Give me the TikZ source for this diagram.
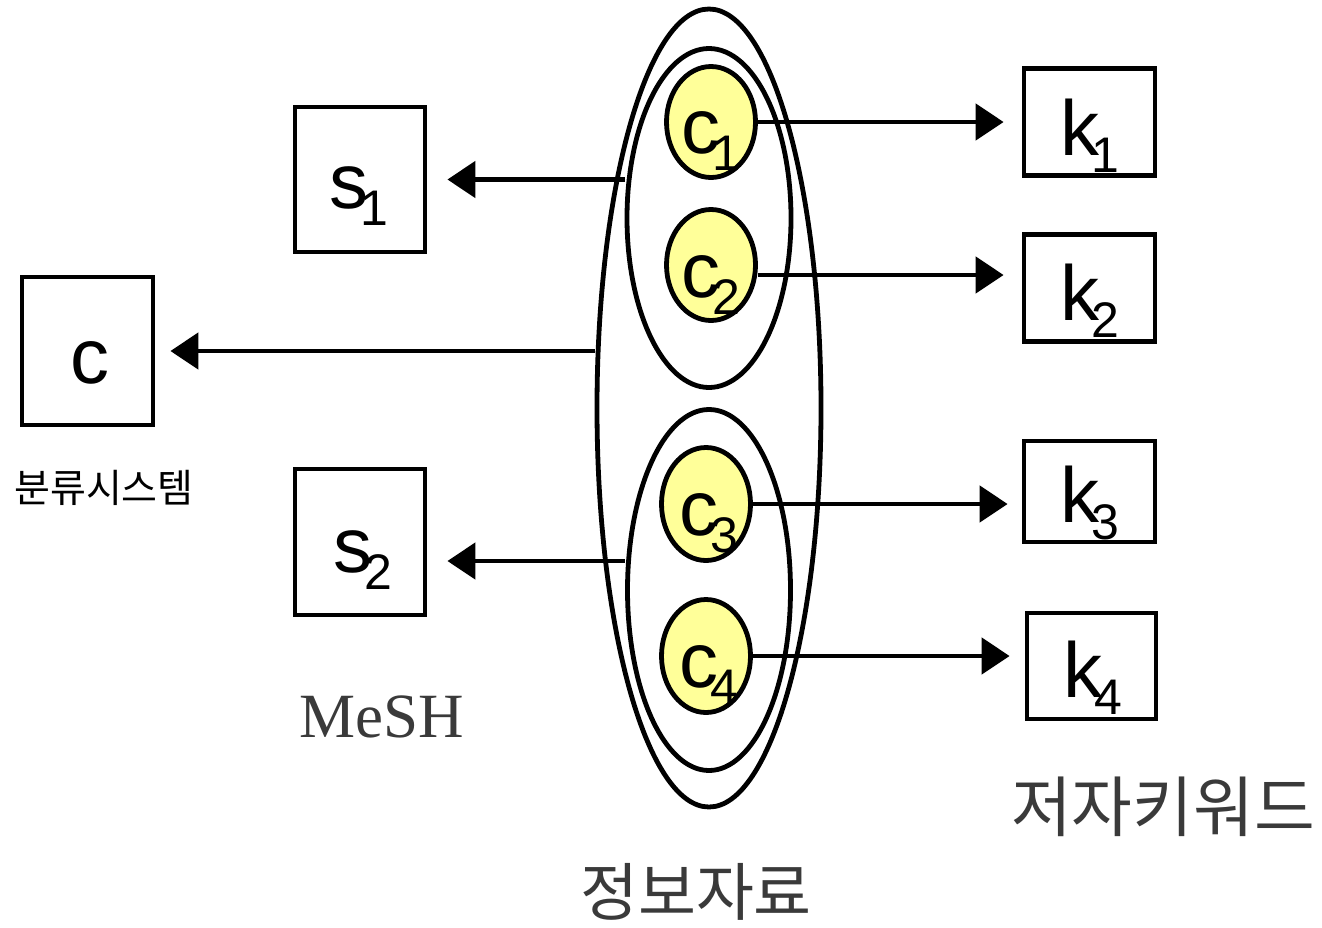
\documentclass[tikz,border=0pt]{standalone}
\usepackage{fontspec}
\setmainfont{Liberation Sans}
\newfontfamily\krfont{Noto Sans CJK KR}
\newfontfamily\seriffont{Liberation Serif}
\usetikzlibrary{shapes.geometric,arrows.meta,calc}

\definecolor{pale}{RGB}{255,255,153}
\definecolor{ink}{RGB}{58,58,58}

% symbol with a tight, lowered index
\newcommand\sym[2]{\fontsize{39}{39}\selectfont #1\kern-4pt\raisebox{-8.5pt}{\fontsize{25}{25}\selectfont #2}}

\begin{document}
\begin{tikzpicture}[x=0.5pt,y=-0.5pt, line width=2.4pt,
  box/.style={draw, rectangle, inner sep=0pt},
  oval/.style={draw, ellipse, inner sep=0pt},
  dot/.style={oval, fill=pale},
  lab/.style={anchor=base, inner sep=0pt},
  arr/.style={-{Triangle[length=14pt,width=18pt]}},
  kr/.style={inner sep=0pt, font=\krfont\fontsize{#1}{#1}\selectfont}]
\useasboundingbox (0,0) rectangle (1322,927);

% nested groups of documents
\node[oval, minimum width=112pt, minimum height=399pt] (outer) at (709,408) {};
\node[oval, minimum width=82pt, minimum height=169.5pt] (topE) at (709,218) {};
\node[oval, minimum width=81.5pt, minimum height=180.5pt] (botE) at (709,590) {};

% documents
\node[dot, minimum width=44.5pt, minimum height=55.5pt] (c1) at (711,122) {};
\node[dot, minimum width=44.5pt, minimum height=55.5pt] (c2) at (711,265) {};
\node[dot, minimum width=44.5pt, minimum height=56.5pt] (c3) at (706,504) {};
\node[dot, minimum width=44.5pt, minimum height=56.5pt] (c4) at (706,656) {};

% keyword boxes
\node[box, minimum width=65.5pt, minimum height=53.5pt] (k1) at (1089.5,122) {};
\node[box, minimum width=65.5pt, minimum height=53.5pt] (k2) at (1089.5,288) {};
\node[box, minimum width=65.5pt, minimum height=50.5pt] (k3) at (1089.5,491.5) {};
\node[box, minimum width=64.5pt, minimum height=53pt] (k4) at (1091.5,666) {};

% classification boxes
\node[box, minimum width=65pt, minimum height=72.5pt] (s1) at (360,179.5) {};
\node[box, minimum width=65pt, minimum height=73pt] (s2) at (360,542) {};
\node[box, minimum width=65.5pt, minimum height=74pt] (cb) at (87.5,351) {};

% box and document labels
\node[lab] (lc1) at (711,153) {\sym{c}{1}};
\node[lab] (lc2) at (711,297) {\sym{c}{2}};
\node[lab] (lc3) at (709,535) {\sym{c}{3}};
\node[lab] (lc4) at (709,687) {\sym{c}{4}};
\node[lab] (lk1) at (1090,155) {\sym{k}{1}};
\node[lab] (lk2) at (1090,320) {\sym{k}{2}};
\node[lab] (lk3) at (1090,522) {\sym{k}{3}};
\node[lab] (lk4) at (1093,697) {\sym{k}{4}};
\node[lab] (ls1) at (359,208) {\sym{s}{1}};
\node[lab] (ls2) at (363,572) {\sym{s}{2}};
\node[lab] (lcb) at (90,383) {\fontsize{39}{39}\selectfont c};

% connectors to keywords
\coordinate (o2) at ([yshift=-5pt]c2.east);
\draw[arr, shorten >=9pt] (c1.east) -- (c1.east -| k1.west);
\draw[arr, shorten >=9pt] (o2) -- (o2 -| k2.west);
\draw[arr, shorten >=7pt] (c3.east) -- (c3.east -| k3.west);
\draw[arr, shorten >=7.5pt] (c4.east) -- (c4.east -| k4.west);

% connectors to classifications
\coordinate (os1) at (topE.west |- s1.east);
\coordinate (ocb) at (outer.west |- cb.east);
\coordinate (os2) at ([yshift=14.5pt]botE.west);
\draw[arr, shorten >=10pt] (os1) -- (s1.east);
\draw[arr, shorten >=7.5pt] (ocb) -- (cb.east);
\draw[arr, shorten >=10pt] (os2) -- (os2 -| s2.east);

% captions
\node[kr=19.5] (cls) at (104,488) {분류시스템};
\node[inner sep=0pt, text=ink, font=\seriffont\fontsize{31.5}{31.5}\selectfont] (mesh) at (382,717) {MeSH};
\node[kr=33, text=ink] (akw) at (1163,807) {저자키워드};
\node[kr=31.5, text=ink] (info) at (696,892) {정보자료};
\end{tikzpicture}
\end{document}
